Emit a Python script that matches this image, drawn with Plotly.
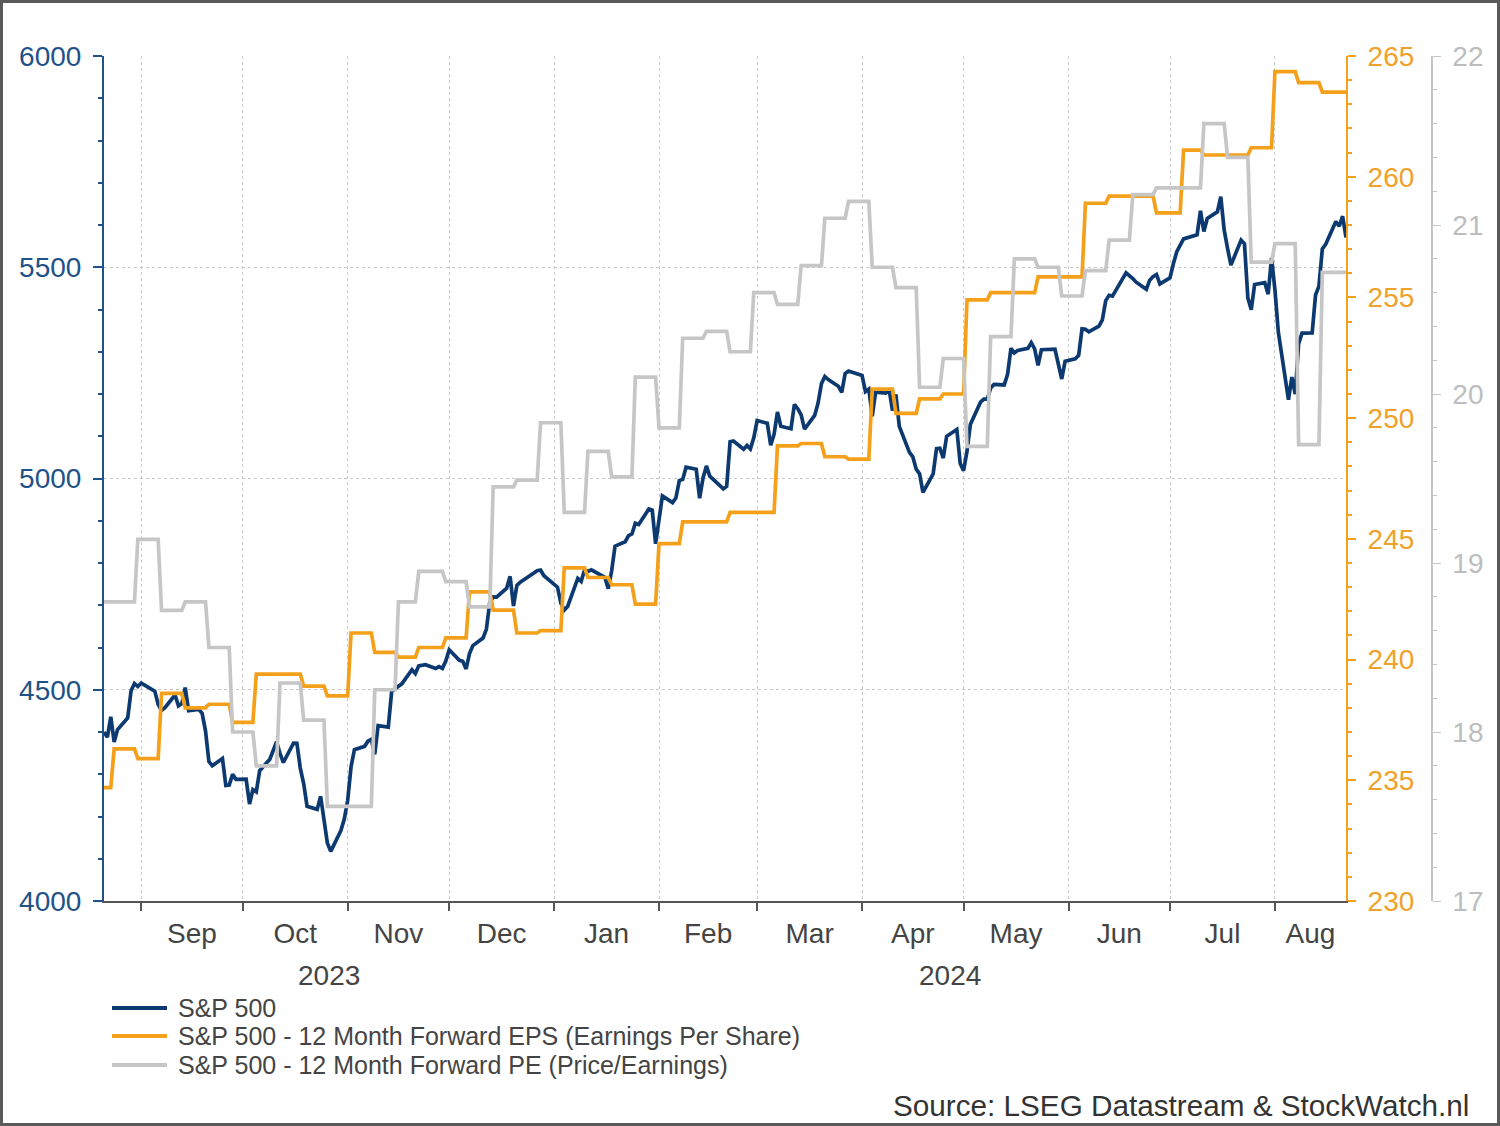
import pandas as pd
import plotly.graph_objects as go

# ---------------- data ----------------
spx_dates = [
"2023-08-21","2023-08-22","2023-08-23","2023-08-24","2023-08-25","2023-08-28","2023-08-29","2023-08-30","2023-08-31","2023-09-01",
"2023-09-05","2023-09-06","2023-09-07","2023-09-08","2023-09-11","2023-09-12","2023-09-13","2023-09-14","2023-09-15","2023-09-18",
"2023-09-19","2023-09-20","2023-09-21","2023-09-22","2023-09-25","2023-09-26","2023-09-27","2023-09-28","2023-09-29","2023-10-02",
"2023-10-03","2023-10-04","2023-10-05","2023-10-06","2023-10-09","2023-10-10","2023-10-11","2023-10-12","2023-10-13","2023-10-16",
"2023-10-17","2023-10-18","2023-10-19","2023-10-20","2023-10-23","2023-10-24","2023-10-25","2023-10-26","2023-10-27","2023-10-30",
"2023-10-31","2023-11-01","2023-11-02","2023-11-03","2023-11-06","2023-11-07","2023-11-08","2023-11-09","2023-11-10","2023-11-13",
"2023-11-14","2023-11-15","2023-11-16","2023-11-17","2023-11-20","2023-11-21","2023-11-22","2023-11-24","2023-11-27","2023-11-28",
"2023-11-29","2023-11-30","2023-12-01","2023-12-04","2023-12-05","2023-12-06","2023-12-07","2023-12-08","2023-12-11","2023-12-12",
"2023-12-13","2023-12-14","2023-12-15","2023-12-18","2023-12-19","2023-12-20","2023-12-21","2023-12-22","2023-12-26","2023-12-27",
"2023-12-28","2023-12-29","2024-01-02","2024-01-03","2024-01-04","2024-01-05","2024-01-08","2024-01-09","2024-01-10","2024-01-11",
"2024-01-12","2024-01-16","2024-01-17","2024-01-18","2024-01-19","2024-01-22","2024-01-23","2024-01-24","2024-01-25","2024-01-26",
"2024-01-29","2024-01-30","2024-01-31","2024-02-01","2024-02-02","2024-02-05","2024-02-06","2024-02-07","2024-02-08","2024-02-09",
"2024-02-12","2024-02-13","2024-02-14","2024-02-15","2024-02-16","2024-02-20","2024-02-21","2024-02-22","2024-02-23","2024-02-26",
"2024-02-27","2024-02-28","2024-02-29","2024-03-01","2024-03-04","2024-03-05","2024-03-06","2024-03-07","2024-03-08","2024-03-11",
"2024-03-12","2024-03-13","2024-03-14","2024-03-15","2024-03-18","2024-03-19","2024-03-20","2024-03-21","2024-03-22","2024-03-25",
"2024-03-26","2024-03-27","2024-03-28","2024-04-01","2024-04-02","2024-04-03","2024-04-04","2024-04-05","2024-04-08","2024-04-09",
"2024-04-10","2024-04-11","2024-04-12","2024-04-15","2024-04-16","2024-04-17","2024-04-18","2024-04-19","2024-04-22","2024-04-23",
"2024-04-24","2024-04-25","2024-04-26","2024-04-29","2024-04-30","2024-05-01","2024-05-02","2024-05-03","2024-05-06","2024-05-07",
"2024-05-08","2024-05-09","2024-05-10","2024-05-13","2024-05-14","2024-05-15","2024-05-16","2024-05-17","2024-05-20","2024-05-21",
"2024-05-22","2024-05-23","2024-05-24","2024-05-28","2024-05-29","2024-05-30","2024-05-31","2024-06-03","2024-06-04","2024-06-05",
"2024-06-06","2024-06-07","2024-06-10","2024-06-11","2024-06-12","2024-06-13","2024-06-14","2024-06-17","2024-06-18","2024-06-20",
"2024-06-21","2024-06-24","2024-06-25","2024-06-26","2024-06-27","2024-06-28","2024-07-01","2024-07-02","2024-07-03","2024-07-05",
"2024-07-08","2024-07-09","2024-07-10","2024-07-11","2024-07-12","2024-07-15","2024-07-16","2024-07-17","2024-07-18","2024-07-19",
"2024-07-22","2024-07-23","2024-07-24","2024-07-25","2024-07-26","2024-07-29","2024-07-30","2024-07-31","2024-08-01","2024-08-02",
"2024-08-05","2024-08-06","2024-08-07","2024-08-08","2024-08-09","2024-08-12","2024-08-13","2024-08-14","2024-08-15","2024-08-16",
"2024-08-19","2024-08-20","2024-08-21","2024-08-22",
]
spx_values = [
4399.8,4387.6,4436.0,4376.3,4405.7,4433.3,4497.6,4514.9,4507.7,4515.8,
4496.8,4465.5,4451.1,4457.5,4487.5,4461.9,4467.4,4505.1,4450.3,4453.5,
4444.0,4402.2,4330.0,4320.1,4337.4,4273.5,4274.5,4299.7,4288.1,4288.4,
4229.5,4263.8,4258.2,4308.5,4335.7,4358.2,4377.0,4349.6,4327.8,4373.6,
4373.2,4314.6,4278.0,4224.2,4217.0,4247.7,4186.8,4137.2,4117.4,4166.8,
4193.8,4237.9,4317.8,4358.3,4366.0,4378.4,4382.8,4347.4,4415.2,4411.6,
4495.7,4502.9,4508.2,4514.0,4547.4,4538.2,4556.6,4559.3,4550.4,4554.9,
4550.6,4567.8,4594.6,4569.8,4567.2,4549.3,4585.6,4604.4,4622.4,4643.7,
4707.1,4719.6,4719.2,4740.6,4768.4,4698.4,4746.8,4754.6,4774.8,4781.6,
4783.4,4769.8,4742.8,4704.8,4688.7,4697.2,4763.5,4756.5,4783.5,4780.2,
4783.8,4766.0,4739.2,4780.9,4839.8,4850.4,4864.6,4868.6,4894.2,4891.0,
4927.9,4925.0,4845.7,4906.2,4958.6,4942.8,4954.2,4995.1,4997.9,5026.6,
5021.8,4953.2,5000.6,5029.7,5005.6,4975.5,4981.8,5087.0,5088.8,5069.5,
5078.2,5069.8,5096.3,5137.1,5131.0,5078.7,5104.8,5157.4,5123.7,5117.9,
5175.3,5165.3,5150.5,5117.1,5149.4,5178.5,5224.6,5241.5,5234.2,5218.2,
5203.6,5248.5,5254.4,5243.8,5205.8,5211.5,5147.2,5204.3,5202.4,5209.9,
5160.6,5199.1,5123.4,5061.8,5051.4,5022.2,5011.1,4967.2,5010.6,5070.6,
5071.6,5048.4,5100.0,5116.2,5035.7,5018.4,5064.2,5127.8,5180.7,5187.7,
5187.7,5214.1,5222.7,5221.4,5246.7,5308.2,5297.1,5303.3,5308.1,5321.4,
5307.0,5267.8,5304.7,5306.0,5267.0,5235.5,5277.5,5283.4,5291.3,5354.0,
5353.0,5347.0,5360.8,5375.3,5421.0,5433.7,5431.6,5473.2,5487.0,5473.2,
5464.6,5447.9,5469.3,5477.9,5482.9,5460.5,5475.1,5509.0,5537.0,5567.2,
5572.9,5577.0,5633.9,5584.5,5615.4,5631.2,5667.2,5588.3,5544.6,5505.0,
5564.4,5555.7,5427.1,5399.2,5459.1,5463.5,5436.4,5522.3,5446.7,5346.6,
5186.3,5240.0,5199.5,5319.3,5344.2,5344.4,5434.4,5455.2,5543.2,5554.3,
5608.3,5597.1,5620.9,5570.6,
]

eps_dates = [
"2023-08-21","2023-08-24","2023-08-31","2023-09-07","2023-09-14","2023-09-21","2023-09-28","2023-10-05",
"2023-10-19","2023-10-26","2023-11-02","2023-11-09","2023-11-16","2023-11-22","2023-11-30","2023-12-07",
"2023-12-14","2023-12-21","2023-12-28","2024-01-04","2024-01-11","2024-01-18","2024-01-25","2024-02-01",
"2024-02-08","2024-02-22","2024-03-07","2024-03-14","2024-03-21","2024-03-28","2024-04-04","2024-04-11",
"2024-04-18","2024-04-25","2024-05-02","2024-05-09","2024-05-23","2024-06-06","2024-06-13","2024-06-27",
"2024-07-05","2024-07-11","2024-07-25","2024-08-01","2024-08-08","2024-08-15","2024-08-22",
]
eps_values = [
234.7,236.3,235.9,238.6,238.0,238.15,237.4,239.4,
238.9,238.5,241.1,240.3,240.1,240.5,240.9,242.8,
242.05,241.1,241.2,243.8,243.4,243.1,242.3,244.8,
245.7,246.1,248.85,248.95,248.4,248.3,251.2,250.2,
250.8,251.0,254.9,255.2,255.85,258.9,259.2,258.5,
261.1,260.9,261.2,264.35,263.9,263.5,263.5,
]

pe_dates = [
"2023-08-21","2023-08-31","2023-09-07","2023-09-14","2023-09-21","2023-09-28","2023-10-05","2023-10-12",
"2023-10-19","2023-10-26","2023-11-09","2023-11-16","2023-11-22","2023-11-30","2023-12-07","2023-12-14",
"2023-12-21","2023-12-28","2024-01-04","2024-01-11","2024-01-18","2024-01-25","2024-02-01","2024-02-08",
"2024-02-15","2024-02-22","2024-02-29","2024-03-07","2024-03-14","2024-03-21","2024-03-28","2024-04-04",
"2024-04-11","2024-04-18","2024-04-25","2024-05-02","2024-05-09","2024-05-16","2024-05-23","2024-05-30",
"2024-06-06","2024-06-13","2024-06-20","2024-06-27","2024-07-11","2024-07-18","2024-07-25","2024-08-01",
"2024-08-08","2024-08-15","2024-08-22",
]
pe_values = [
18.77,19.14,18.72,18.77,18.5,18.0,17.8,18.29,
18.07,17.56,18.25,18.77,18.95,18.89,18.74,19.45,
19.49,19.83,19.3,19.66,19.51,20.1,19.8,20.33,
20.37,20.25,20.6,20.53,20.76,21.04,21.14,20.75,
20.63,20.04,20.21,19.69,20.34,20.8,20.75,20.58,
20.73,20.91,21.18,21.22,21.6,21.4,20.78,20.89,
19.7,20.72,20.72,
]

series_names = [
    "S&P 500",
    "S&P 500 - 12 Month Forward EPS (Earnings Per Share)",
    "S&P 500 - 12 Month Forward PE (Price/Earnings)",
]
month_names = ["Jan","Feb","Mar","Apr","May","Jun","Jul","Aug","Sep","Oct","Nov","Dec"]
x_start, x_end = "2023-08-21", "2024-08-22"
source_text = "Source: LSEG Datastream & StockWatch.nl"

# ---------------- styling ----------------
C_SPX = "#0c3a70"
C_EPS = "#f5a01a"
C_PE = "#c6c6c6"
C_LEFT = "#1f5288"
C_EPS_TXT = "#f0a12a"
C_PE_TXT = "#bdbdbd"
C_TXT = "#444444"
C_GRID = "#c8c8c8"
FONT = "Liberation Sans, Arial, sans-serif"

W, H = 1500, 1126
ML, MR, MT, MB = 104, 40, 56, 225
PW = W - ML - MR
PH = H - MT - MB
x_dom_end = (1346 - ML) / PW
pe_pos = (1432 - ML) / PW
LW = 3.7


def weekly_steps(dates, values):
    """Weekly values held between updates; each update moves over one day."""
    xs, ys = [dates[0]], [values[0]]
    for i in range(1, len(dates)):
        d = pd.Timestamp(dates[i])
        xs.append((d - pd.Timedelta(days=1)).strftime("%Y-%m-%d"))
        ys.append(values[i - 1])
        xs.append(dates[i])
        ys.append(values[i])
    return xs, ys


eps_x, eps_y = weekly_steps(eps_dates, eps_values)
pe_x, pe_y = weekly_steps(pe_dates, pe_values)

fig = go.Figure()
fig.add_trace(go.Scatter(x=spx_dates, y=spx_values, name=series_names[0], mode="lines",
                         line=dict(color=C_SPX, width=LW), yaxis="y"))
fig.add_trace(go.Scatter(x=eps_x, y=eps_y, name=series_names[1], mode="lines",
                         line=dict(color=C_EPS, width=LW), yaxis="y2"))
fig.add_trace(go.Scatter(x=pe_x, y=pe_y, name=series_names[2], mode="lines",
                         line=dict(color=C_PE, width=LW), yaxis="y3"))

# month ticks: boundaries at month starts, labels centred on the visible part of each month
r0, r1 = pd.Timestamp(x_start), pd.Timestamp(x_end)
month_starts = pd.date_range(r0.replace(day=1) + pd.offsets.MonthBegin(1), r1, freq="MS")
label_vals, label_txt = [], []
m = r0.replace(day=1)
while m <= r1:
    nm = m + pd.offsets.MonthBegin(1)
    a, b = max(m, r0), min(nm, r1)
    if (b - a).days >= 15:
        label_vals.append(a + (b - a) / 2)
        label_txt.append(month_names[m.month - 1])
    m = nm

annotations = []
year_y = (H - MB - 975) / PH
for yr in sorted(set([r0.year, r1.year])):
    a = max(pd.Timestamp(f"{yr}-01-01"), r0)
    b = min(pd.Timestamp(f"{yr + 1}-01-01"), r1)
    annotations.append(dict(x=a + (b - a) / 2, y=year_y,
                            xref="x", yref="paper", text=str(yr), showarrow=False,
                            xanchor="center", yanchor="middle",
                            font=dict(family=FONT, size=28, color=C_TXT)))

# legend (drawn manually to match spacing)
legend_colors = [C_SPX, C_EPS, C_PE]
legend_y_px = [1008, 1036, 1065]
shapes = []
for name, col, ypx in zip(series_names, legend_colors, legend_y_px):
    yp = (H - MB - ypx) / PH
    shapes.append(dict(type="line", xref="paper", yref="paper",
                       x0=(112 - ML) / PW, x1=(167 - ML) / PW, y0=yp, y1=yp,
                       line=dict(color=col, width=4)))
    annotations.append(dict(x=(176 - ML) / PW, y=yp, xref="paper", yref="paper",
                            text=name, showarrow=False, xanchor="left", yanchor="middle",
                            font=dict(family=FONT, size=25, color=C_TXT)))

annotations.append(dict(x=(1471 - ML) / PW, y=(H - MB - 1105) / PH, xref="paper", yref="paper",
                        text=source_text, showarrow=False, xanchor="right", yanchor="middle",
                        font=dict(family=FONT, size=29.7, color="#333333")))

# outer border
shapes.append(dict(type="rect", xref="paper", yref="paper",
                   x0=(1.5 - ML) / PW, x1=(W - 1.5 - ML) / PW,
                   y0=-(MB - 1.5) / PH, y1=1 + (MT - 1.5) / PH,
                   line=dict(color="#5a5a5a", width=3), fillcolor="rgba(0,0,0,0)", layer="above"))

fig.update_layout(
    width=W, height=H,
    margin=dict(l=ML, r=MR, t=MT, b=MB, pad=0),
    paper_bgcolor="white", plot_bgcolor="white",
    showlegend=False,
    font=dict(family=FONT, color=C_TXT),
    xaxis=dict(
        domain=[0, x_dom_end], range=[x_start, x_end], type="date",
        tickvals=label_vals, ticktext=label_txt, ticks="", showgrid=False,
        ticklabelstandoff=6,
        tickfont=dict(family=FONT, size=28, color=C_TXT),
        showline=True, linecolor="#555555", linewidth=2,
        minor=dict(tickvals=list(month_starts), ticks="outside", ticklen=8, tickwidth=2,
                   tickcolor="#555555", showgrid=True, gridcolor=C_GRID, griddash="dot", gridwidth=1),
        zeroline=False,
    ),
    yaxis=dict(
        range=[4000, 6000], tickvals=[4000, 4500, 5000, 5500, 6000], ticks="outside", ticklen=9,
        tickwidth=2, tickcolor=C_LEFT, showline=True, linecolor=C_LEFT, linewidth=2,
        tickfont=dict(family=FONT, size=28, color=C_LEFT), ticklabelstandoff=6,
        showgrid=True, gridcolor=C_GRID, griddash="dot", gridwidth=1, zeroline=False,
        minor=dict(dtick=100, ticks="outside", ticklen=4, tickwidth=2, tickcolor=C_LEFT, showgrid=False),
    ),
    yaxis2=dict(
        range=[230, 265], tickvals=[230, 235, 240, 245, 250, 255, 260, 265], overlaying="y", side="right",
        anchor="x", ticks="outside", ticklen=8, tickwidth=2, tickcolor=C_EPS,
        showline=True, linecolor=C_EPS, linewidth=2, showgrid=False, zeroline=False,
        tickfont=dict(family=FONT, size=28, color=C_EPS_TXT), ticklabelstandoff=6,
        minor=dict(dtick=1, ticks="outside", ticklen=4, tickwidth=2, tickcolor=C_EPS, showgrid=False),
    ),
    yaxis3=dict(
        range=[17, 22], tickvals=[17, 18, 19, 20, 21, 22], overlaying="y", side="right",
        anchor="free", position=pe_pos, ticks="outside", ticklen=8, tickwidth=1, tickcolor=C_PE,
        showline=True, linecolor=C_PE, linewidth=1.5, showgrid=False, zeroline=False,
        tickfont=dict(family=FONT, size=28, color=C_PE_TXT), ticklabelstandoff=6,
        minor=dict(dtick=0.2, ticks="outside", ticklen=4, tickwidth=1, tickcolor=C_PE, showgrid=False),
    ),
    annotations=annotations,
    shapes=shapes,
)

fig.write_html("out.html")
